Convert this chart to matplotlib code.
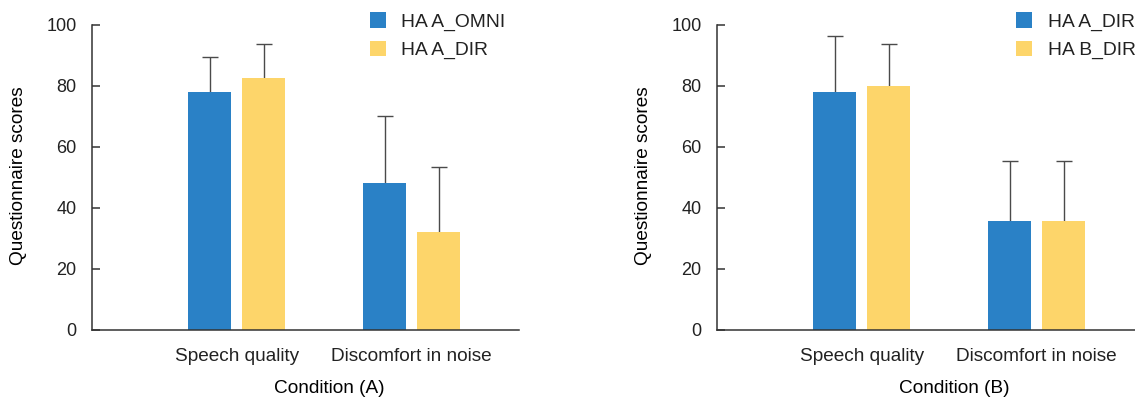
import numpy as np
import matplotlib.pyplot as plt

# ---------------------------------------------------------------
# Data
# ---------------------------------------------------------------
categories = ["Speech quality", "Discomfort in noise"]

# panel A
labels_a = ["HA A_OMNI", "HA A_DIR"]
means_a = [[77.9, 48.1], [82.5, 32.0]]
sd_a = [[11.6, 21.9], [11.3, 21.4]]

# panel B
labels_b = ["HA A_DIR", "HA B_DIR"]
means_b = [[77.9, 35.6], [79.9, 35.6]]
sd_b = [[18.4, 19.8], [13.9, 19.8]]

BLUE = "#2a81c6"
YELLOW = "#fdd56a"
INK = "#222222"
AX = "#333333"

plt.rcParams["font.family"] = ["Liberation Sans", "DejaVu Sans"]
plt.rcParams["text.color"] = INK

fig = plt.figure(figsize=(11.35, 4.01), dpi=100)

W, H = 1135.0, 401.0
ax_w, ax_h = 427.6 / W, 304.8 / H
ax_y = (H - 329.5) / H


def draw_panel(ax, means, sds, labels, xlabel, leg_x):
    x = np.arange(len(categories))
    width = 0.247
    offset = 0.154
    for k, (m, s, c, lab) in enumerate(zip(means, sds, [BLUE, YELLOW], labels)):
        pos = x + (offset if k else -offset)
        # symmetric bars drawn behind the bar: only the upper half shows
        ax.errorbar(pos, m, yerr=s, fmt="none", ecolor="#4a4a4a",
                    elinewidth=1.0, capsize=5.7, capthick=1.0, zorder=1)
        ax.bar(pos, m, width, color=c, label=lab, zorder=3)

    ax.set_xlim(-0.83, 1.616)
    ax.set_ylim(0, 100)
    ax.set_yticks([0, 20, 40, 60, 80, 100])
    ax.set_xticks(x)
    ax.set_xticklabels(categories, fontsize=13.7, color=INK)
    ax.tick_params(axis="x", length=0, pad=13)
    ax.tick_params(axis="y", direction="in", length=5.8, width=1.1,
                   color=AX, labelsize=13, labelcolor=INK, pad=11)
    for side in ["top", "right"]:
        ax.spines[side].set_visible(False)
    for side in ["left", "bottom"]:
        ax.spines[side].set_color(AX)
        ax.spines[side].set_linewidth(1.1)
        ax.spines[side].set_zorder(4)

    ax.set_xlabel(xlabel, fontsize=13.7)
    ax.xaxis.set_label_coords(0.555, -0.165)
    ax.set_ylabel("Questionnaire scores", fontsize=13.7)
    ax.yaxis.set_label_coords(-0.152, 0.505)

    ax.legend(loc="upper left", bbox_to_anchor=(leg_x / W, 1 - 12.5 / H),
              bbox_transform=fig.transFigure, frameon=False, fontsize=13.9,
              handlelength=0.82, handleheight=0.82, handletextpad=0.8,
              labelspacing=0.5, borderpad=0, borderaxespad=0)


ax1 = fig.add_axes([91.7 / W, ax_y, ax_w, ax_h])
draw_panel(ax1, means_a, sd_a, labels_a, "Condition (A)", 370)

ax2 = fig.add_axes([716.7 / W, ax_y, ax_w, ax_h])
draw_panel(ax2, means_b, sd_b, labels_b, "Condition (B)", 1016.4)

fig.savefig("out.png", dpi=100)
